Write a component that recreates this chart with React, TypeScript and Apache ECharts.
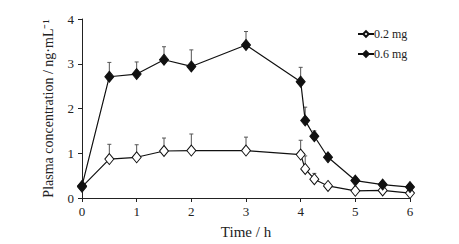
import React, { useEffect, useRef } from "react";
import * as echarts from "echarts";

const times = [0, 0.5, 1, 1.5, 2, 3, 4, 4.083, 4.25, 4.5, 5, 5.5, 6];
const low = [0.25, 0.87, 0.91, 1.05, 1.06, 1.06, 0.97, 0.65, 0.42, 0.27, 0.16, 0.17, 0.11];
const lowSD = [0, 0.33, 0.28, 0.29, 0.37, 0.3, 0.32, 0.29, 0.13, 0, 0, 0, 0];
const high = [0.27, 2.71, 2.77, 3.09, 2.94, 3.42, 2.6, 1.73, 1.38, 0.91, 0.39, 0.3, 0.245];
const highSD = [0, 0.32, 0.27, 0.29, 0.37, 0.3, 0.32, 0.3, 0.12, 0, 0, 0, 0];
const seriesNames = ["0.2 mg", "0.6 mg"];
const xTicks = [0, 1, 2, 3, 4, 5, 6];
const yTicks = [0, 1, 2, 3, 4];

const FONT = "Liberation Serif";

function errData(vals: number[], sds: number[]) {
  return times
    .map((t, i) => [t, vals[i], sds[i]])
    .filter((d) => d[2] > 0);
}

function errSeries(vals: number[], sds: number[]) {
  return {
    type: "custom",
    silent: true,
    z: 1,
    data: errData(vals, sds),
    renderItem: (params: any, api: any) => {
      const x = api.value(0);
      const y = api.value(1);
      const sd = api.value(2);
      const p0 = api.coord([x, y]);
      const p1 = api.coord([x, y + sd]);
      return {
        type: "group",
        children: [
          {
            type: "line",
            shape: { x1: p0[0], y1: p0[1], x2: p1[0], y2: p1[1] },
            style: { stroke: "#555", lineWidth: 1 },
          },
          {
            type: "line",
            shape: { x1: p1[0] - 2, y1: p1[1], x2: p1[0] + 2, y2: p1[1] },
            style: { stroke: "#555", lineWidth: 1 },
          },
        ],
      };
    },
  };
}

export default function App() {
  const ref = useRef<HTMLDivElement>(null);
  useEffect(() => {
    if (!ref.current) return;
    const chart = echarts.init(ref.current, null, { renderer: "svg" });
    chart.setOption({
      animation: false,
      backgroundColor: "#fff",
      textStyle: { fontFamily: FONT },
      grid: { left: 82, right: 49, top: 19, bottom: 42.5 },
      legend: {
        data: seriesNames.map((n) => ({ name: n })),
        orient: "vertical",
        left: 352,
        top: 23,
        itemWidth: 16,
        itemHeight: 7,
        itemGap: 8,
        textStyle: { fontFamily: FONT, fontSize: 12, color: "#222", padding: [0, 0, 0, -5] },
      },
      xAxis: {
        type: "value",
        min: 0,
        max: 6,
        interval: 1,
        name: "Time / h",
        nameLocation: "middle",
        nameGap: 26,
        nameTextStyle: { fontFamily: FONT, fontSize: 15, color: "#222" },
        axisLine: { lineStyle: { color: "#222", width: 1 } },
        axisTick: { show: true, length: 4, lineStyle: { color: "#222" } },
        axisLabel: {
          fontFamily: FONT,
          fontSize: 13,
          color: "#222",
          margin: 7,
          formatter: (v: number) => (xTicks.includes(v) ? String(v) : ""),
        },
        splitLine: { show: false },
      },
      yAxis: {
        type: "value",
        min: 0,
        max: 4,
        interval: 1,
        name: "Plasma concentration / ng·mL⁻¹",
        nameLocation: "middle",
        nameGap: 27,
        nameTextStyle: { fontFamily: FONT, fontSize: 14, color: "#222" },
        axisLine: { show: true, lineStyle: { color: "#222", width: 1 } },
        axisTick: { show: true, length: 4, lineStyle: { color: "#222" } },
        axisLabel: {
          fontFamily: FONT,
          fontSize: 13,
          color: "#222",
          margin: 8,
          formatter: (v: number) => (yTicks.includes(v) ? String(v) : ""),
        },
        splitLine: { show: false },
      },
      series: [
        errSeries(low, lowSD),
        errSeries(high, highSD),
        {
          name: seriesNames[0],
          type: "line",
          z: 3,
          data: times.map((t, i) => [t, low[i]]),
          symbol: "diamond",
          symbolSize: [9, 11],
          lineStyle: { color: "#111", width: 1.2 },
          itemStyle: { color: "#fff", borderColor: "#111", borderWidth: 1 },
        },
        {
          name: seriesNames[1],
          type: "line",
          z: 4,
          data: times.map((t, i) => [t, high[i]]),
          symbol: "diamond",
          symbolSize: [9, 11],
          lineStyle: { color: "#111", width: 1.2 },
          itemStyle: { color: "#111", borderColor: "#111", borderWidth: 1 },
        },
      ],
    });
    return () => chart.dispose();
  }, []);
  return <div ref={ref} style={{ width: 459, height: 244, position: "absolute", left: 0, top: 0 }} />;
}
